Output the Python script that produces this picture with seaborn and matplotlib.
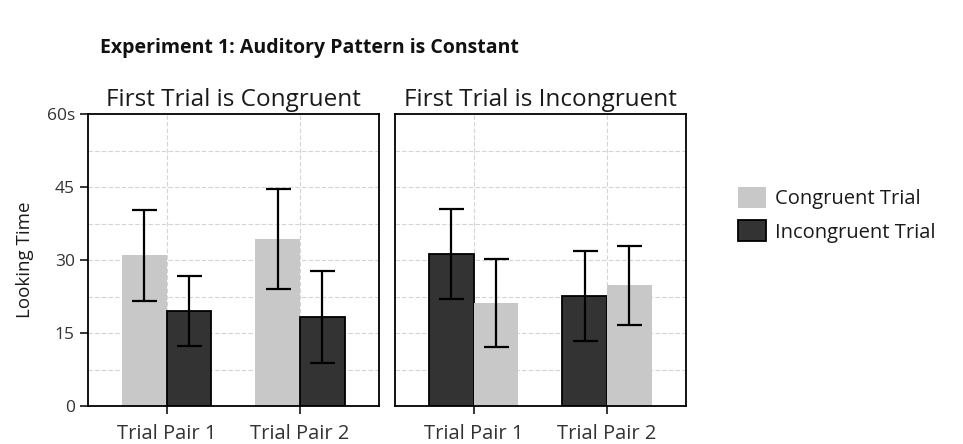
import pandas as pd
import seaborn as sns
import matplotlib.pyplot as plt
from matplotlib.patches import Patch

# Data (seconds of looking time, +/- error)
pairs = ["Trial Pair 1", "Trial Pair 2"]
trials = ["Congruent Trial", "Incongruent Trial"]

cong_first_mean = {"Congruent Trial": [31.0, 34.3], "Incongruent Trial": [19.6, 18.3]}
cong_first_err = {"Congruent Trial": [9.4, 10.3], "Incongruent Trial": [7.2, 9.4]}
incong_first_mean = {"Congruent Trial": [21.2, 24.8], "Incongruent Trial": [31.3, 22.6]}
incong_first_err = {"Congruent Trial": [9.1, 8.2], "Incongruent Trial": [9.3, 9.3]}

panel_titles = ["First Trial is Congruent", "First Trial is Incongruent"]
yticks = [0, 15, 30, 45, 60]
ytick_labels = ["0", "15", "30", "45", "60s"]

light = "#c8c8c8"
dark = "#333333"
palette = {"Congruent Trial": light, "Incongruent Trial": dark}

sns.set_style("white")
plt.rcParams["font.family"] = ["Open Sans", "DejaVu Sans"]

fig = plt.figure(figsize=(9.63, 4.44), dpi=100)
ax1 = fig.add_axes([0.0914, 0.0856, 0.302, 0.657])
ax2 = fig.add_axes([0.410, 0.0856, 0.302, 0.657])

panels = [
    (ax1, cong_first_mean, cong_first_err, ["Congruent Trial", "Incongruent Trial"]),
    (ax2, incong_first_mean, incong_first_err, ["Incongruent Trial", "Congruent Trial"]),
]

for i, (ax, means, errs, order) in enumerate(panels):
    rows = []
    for t in trials:
        for j, p in enumerate(pairs):
            rows.append({"pair": p, "trial": t, "mean": means[t][j], "err": errs[t][j]})
    df = pd.DataFrame(rows)

    # grid first so bars sit on top
    for y in [7.5 * k for k in range(1, 8)]:
        ax.axhline(y, color="#d4d4d4", lw=0.8, ls=(0, (4, 2)), zorder=0)
    for x in [0, 1]:
        ax.axvline(x, color="#d4d4d4", lw=0.8, ls=(0, (4, 2)), zorder=0)

    sns.barplot(data=df, x="pair", y="mean", hue="trial", hue_order=order,
                order=pairs, palette=palette, width=0.67, errorbar=None,
                legend=False, ax=ax, zorder=2)

    for cont, t in zip(ax.containers, order):
        sub = df[df["trial"] == t].set_index("pair").loc[pairs]
        for bar, (_, r) in zip(cont, sub.iterrows()):
            if t == "Incongruent Trial":
                bar.set_edgecolor("black")
                bar.set_linewidth(1.3)
            else:
                bar.set_edgecolor("none")
            cx = bar.get_x() + bar.get_width() / 2
            ax.errorbar(cx, r["mean"], yerr=r["err"], color="black", lw=1.6,
                        capsize=9, capthick=1.6, zorder=3)

    ax.set_xlim(-0.59, 1.59)
    ax.set_ylim(0, 60)
    ax.set_yticks(yticks)
    ax.set_xlabel("")
    ax.set_ylabel("")
    ax.set_title(panel_titles[i], fontsize=17.5, color="#1a1a1a", pad=6)
    ax.tick_params(axis="x", length=6, width=1.3, direction="out", labelsize=14.5,
                   labelcolor="#333333", bottom=True, pad=7)
    for s in ax.spines.values():
        s.set_color("black")
        s.set_linewidth(1.3)
    if i == 0:
        ax.set_yticklabels(ytick_labels)
        ax.tick_params(axis="y", length=6, width=1.3, direction="out", labelsize=12.5,
                       labelcolor="#333333", left=True)
        ax.set_ylabel("Looking Time", fontsize=13.5, color="#1a1a1a", labelpad=9)
    else:
        ax.set_yticklabels([])
        ax.tick_params(axis="y", left=False)

fig.text(0.104, 0.88, "Experiment 1: Auditory Pattern is Constant",
         fontsize=14, fontweight="bold", color="#111111")

handles = [Patch(facecolor=light, edgecolor="none", label="Congruent Trial"),
           Patch(facecolor=dark, edgecolor="black", linewidth=1.3, label="Incongruent Trial")]
fig.legend(handles=handles, loc="center left", bbox_to_anchor=(0.748, 0.516),
           frameon=False, fontsize=14.5, handlelength=1.35, handleheight=1.2,
           handletextpad=0.45, labelspacing=0.55, labelcolor="#1a1a1a")

fig.savefig("out.png", dpi=100)
